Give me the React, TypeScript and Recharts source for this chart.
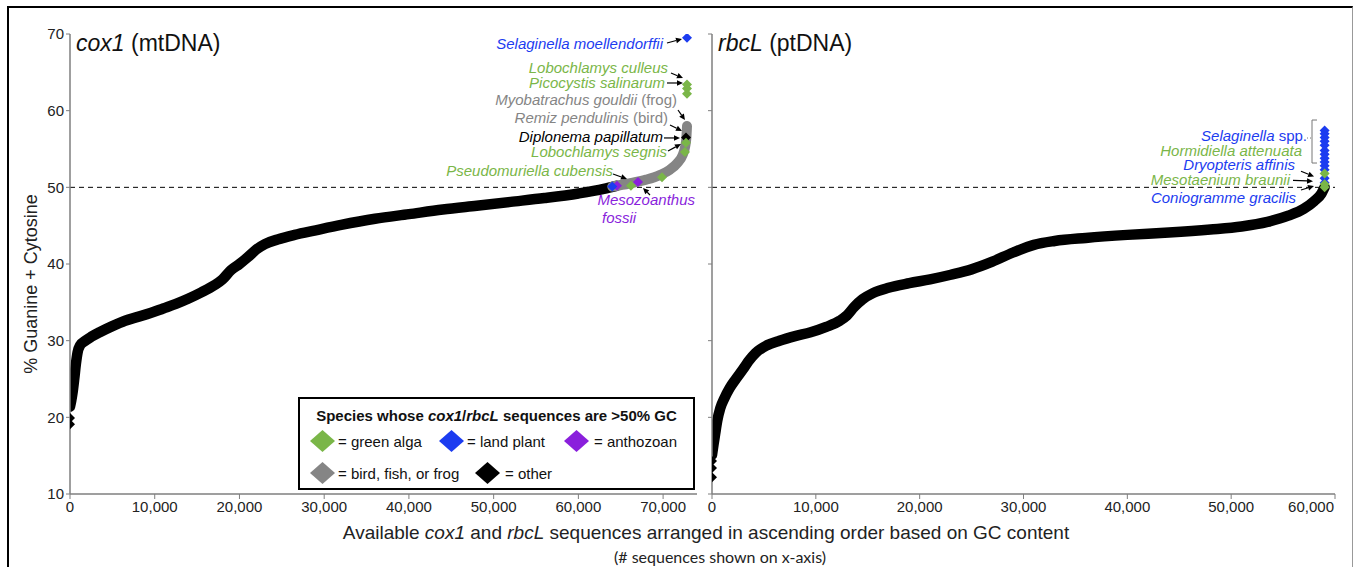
import React from "react";
import {
	ComposedChart,
	Line,
	Scatter,
	XAxis,
	YAxis,
	ReferenceLine,
	ReferenceDot,
} from "recharts";

const GREEN = "#7ab648";
const BLUE = "#1c3cf0";
const PURPLE = "#8a1fdc";
const GRAY = "#858585";
const FONT = '"Liberation Sans", Arial, sans-serif';

const yTicks = [10, 20, 30, 40, 50, 60, 70];
const cox1Ticks = [0, 10000, 20000, 30000, 40000, 50000, 60000, 70000];
const rbcLTicks = [0, 10000, 20000, 30000, 40000, 50000, 60000];

// cox1: main (black) run of sequences
const cox1BlackX = [
	0, 150, 300, 500, 700, 900, 1200, 1700, 2500, 3500, 5000, 6500, 8000, 9500,
	11000, 12500, 14000, 15500, 17000, 18000, 19000, 20000, 21000, 22000, 23000,
	24500, 26500, 29000, 32000, 36000, 40000, 44000, 48000, 52000, 56000, 60000,
	63000, 64500,
];
const cox1BlackY = [
	21.4, 22.2, 23.2, 25.0, 27.0, 28.5, 29.4, 29.9, 30.5, 31.1, 31.9, 32.6, 33.1,
	33.6, 34.2, 34.8, 35.5, 36.3, 37.2, 38.0, 39.2, 40.0, 40.9, 41.9, 42.6, 43.2,
	43.8, 44.4, 45.1, 45.9, 46.5, 47.1, 47.6, 48.1, 48.6, 49.2, 49.8, 50.2,
];
// cox1: bird / fish / frog tail (gray)
const cox1GrayX = [64000, 66000, 68000, 69600, 70800, 71700, 72300, 72600, 72750, 72820];
const cox1GrayY = [50.1, 50.5, 51.0, 51.6, 52.3, 53.2, 54.2, 55.3, 56.5, 58.0];
// cox1 highlighted sequences
const cox1GreenX = [66200, 69870, 72580, 72700, 72820, 72820, 72820];
const cox1GreenY = [50.2, 51.3, 54.6, 55.8, 62.2, 62.9, 63.4];
const cox1BlueX = [64000, 72820];
const cox1BlueY = [50.1, 69.5];
const cox1PurpleX = [64560, 67040];
const cox1PurpleY = [50.2, 50.7];
const cox1OtherX = [0, 0, 72700];
const cox1OtherY = [19.1, 19.9, 56.5];

// rbcL: main (black) run of sequences
const rbcLBlackX = [
	0, 150, 300, 500, 800, 1200, 1700, 2300, 3000, 3500, 4200, 5300, 6500, 8000,
	9500, 11000, 12300, 13000, 13700, 14500, 15500, 17000, 19000, 21000, 23000,
	25000, 27000, 29000, 31000, 33000, 36000, 40000, 44000, 48000, 51000, 53500,
	55500, 57000, 58000, 58700, 59000,
];
const rbcLBlackY = [
	15.1, 16.5, 17.8, 19.5, 21.2, 22.5, 23.8, 25.0, 26.3, 27.3, 28.4, 29.4, 30.0,
	30.6, 31.1, 31.8, 32.6, 33.3, 34.4, 35.4, 36.2, 36.9, 37.5, 38.0, 38.6, 39.3,
	40.3, 41.5, 42.5, 43.0, 43.4, 43.8, 44.1, 44.5, 44.9, 45.5, 46.3, 47.2, 48.2,
	49.2, 50.0,
];
const rbcLBlueX = [59000, 59000, 59000, 59000, 59000, 59000, 59000, 59000, 59000, 59000, 59000, 59000, 59000];
const rbcLBlueY = [57.4, 57.0, 56.5, 56.0, 55.5, 54.8, 54.3, 53.8, 53.3, 52.8, 52.3, 51.2, 50.6];
const rbcLGreenX = [59000, 59000, 59000];
const rbcLGreenY = [51.8, 50.4, 50.0];
const rbcLOtherX = [0, 0, 0];
const rbcLOtherY = [12.2, 13.4, 14.3];

// annotation labels: [name, extra, colour, x, y, anchor]
const cox1Labels: [string, string, string, number, number, string][] = [
	["Selaginella moellendorffii", "", BLUE, 69986, 68.04, "end"],
	["Lobochlamys culleus", "", GREEN, 70576, 64.91, "end"],
	["Picocystis salinarum", "", GREEN, 70222, 62.96, "end"],
	["Myobatrachus gouldii", " (frog)", GRAY, 71640, 60.74, "end"],
	["Remiz pendulinis", " (bird)", GRAY, 70576, 58.39, "end"],
	["Diplonema papillatum", "", "#000", 69986, 55.91, "end"],
	["Lobochlamys segnis", "", GREEN, 70458, 53.96, "end"],
	["Pseudomuriella cubensis", "", GREEN, 64085, 51.48, "end"],
	["Mesozoanthus", "", PURPLE, 73763, 47.7, "end"],
	["fossii", "", PURPLE, 62787, 45.4, "start"],
];
// arrows: [x1, y1, x2, y2]
const cox1Arrows: [number, number, number, number][] = [
	[70458, 68.83, 72228, 69.35],
	[70930, 64.91, 72346, 64.26],
	[70458, 63.61, 72346, 63.61],
	[71756, 60.09, 72582, 58.78],
	[70812, 58.13, 72228, 57.35],
	[70104, 56.44, 71992, 56.44],
	[70576, 54.74, 72110, 55.65],
	[64085, 51.74, 65737, 51.09],
	[68452, 49.0, 67625, 49.91],
];

const rbcLLabels: [string, string, string, number, number, string][] = [
	["Selaginella", " spp.", BLUE, 57305, 56.04, "end"],
	["Hormidiella attenuata", "", GREEN, 56823, 54.1, "end"],
	["Dryopteris affinis", "", BLUE, 56149, 52.2, "end"],
	["Mesotaenium braunii", "", GREEN, 55667, 50.3, "end"],
	["Coniogramme gracilis", "", BLUE, 56245, 47.95, "end"],
];
const rbcLArrows: [number, number, number, number][] = [
	[56727, 52.1, 57979, 51.4],
	[55956, 50.9, 57883, 50.8],
	[56727, 49.65, 57979, 50.17],
];
const rbcLBracket: [number, number, number, number] = [57786, 58.78, 57786, 53.17];

const zip = (xs: number[], ys: number[]) => xs.map((x, i) => ({ x, y: ys[i] }));
const fmt = (v: number) => v.toLocaleString("en-US");

const diamond = (color: string, s = 5) => (p: any) => (
	<polygon
		points={`${p.cx},${p.cy - s} ${p.cx + s},${p.cy} ${p.cx},${p.cy + s} ${p.cx - s},${p.cy}`}
		fill={color}
	/>
);

const arrowShape = (p: any) => {
	const { x1, y1, x2, y2 } = p;
	const a = Math.atan2(y2 - y1, x2 - x1);
	const L = 6;
	const W = 2.8;
	const bx = x2 - L * Math.cos(a);
	const by = y2 - L * Math.sin(a);
	return (
		<g>
			<line x1={x1} y1={y1} x2={bx} y2={by} stroke="#000" strokeWidth={1.2} />
			<polygon
				points={`${x2},${y2} ${bx - W * Math.sin(a)},${by + W * Math.cos(a)} ${bx + W * Math.sin(a)},${by - W * Math.cos(a)}`}
				fill="#000"
			/>
		</g>
	);
};

const bracketShape = (p: any) => {
	const { x1, y1, y2 } = p;
	const mid = y1 + 18;
	return (
		<g fill="none" stroke="#777" strokeWidth={1}>
			<path d={`M${x1 + 5},${y1} H${x1} V${y2} H${x1 + 5}`} />
			<path d={`M${x1 - 5},${mid} H${x1}`} strokeDasharray="1 2" />
		</g>
	);
};

const labelShape = (l: [string, string, string, number, number, string]) => (p: any) => (
	<text
		x={p.cx}
		y={p.cy}
		textAnchor={l[5] as any}
		fill={l[2]}
		fontSize={15}
		fontFamily={FONT}
	>
		<tspan fontStyle="italic">{l[0]}</tspan>
		{l[1] ? <tspan>{l[1]}</tspan> : null}
	</text>
);

const tickStyle = { fontSize: 15, fill: "#222", fontFamily: FONT };
const axisLine = { stroke: "#7f7f7f", strokeWidth: 1.5 };
const frameLine = { stroke: "#444", strokeWidth: 1.5 };

const RbcLTick = (p: any) => {
	const last = p.payload.value === 60000;
	return (
		<text
			x={last ? p.x + 2 : p.x}
			y={p.y}
			dy={11}
			textAnchor={last ? "end" : "middle"}
			{...tickStyle}
		>
			{fmt(p.payload.value)}
		</text>
	);
};

function Panel({
	width,
	yAxisWidth,
	rightMargin,
	domainMax,
	ticks,
	showYLabels,
	xTick,
	black,
	gray,
	marks,
	labels,
	arrows,
	bracket,
}: any) {
	return (
		<ComposedChart
			width={width}
			height={567}
			margin={{ top: 34, right: rightMargin, bottom: 43, left: 0 }}
		>
			<XAxis
				dataKey="x"
				type="number"
				domain={[0, domainMax]}
				ticks={ticks}
				allowDataOverflow
				tick={xTick ?? tickStyle}
				tickFormatter={fmt}
				tickSize={5}
				tickLine={{ stroke: "#7f7f7f" }}
				axisLine={axisLine}
				height={30}
			/>
			<XAxis
				xAxisId="top"
				orientation="top"
				type="number"
				domain={[0, domainMax]}
				tick={false}
				tickLine={false}
				axisLine={frameLine}
				height={0}
			/>
			<YAxis
				dataKey="y"
				type="number"
				domain={[10, 70]}
				ticks={yTicks}
				allowDataOverflow
				tick={showYLabels ? tickStyle : () => <g />}
				tickSize={4}
				tickMargin={2}
				tickLine={{ stroke: "#7f7f7f" }}
				axisLine={axisLine}
				width={yAxisWidth}
			/>
			<YAxis
				yAxisId="right"
				orientation="right"
				type="number"
				domain={[10, 70]}
				tick={false}
				tickLine={false}
				axisLine={frameLine}
				width={0}
			/>
			<ReferenceLine y={50} stroke="#000" strokeDasharray="5 4" strokeWidth={1} />
			<Line
				data={black}
				dataKey="y"
				type="monotone"
				stroke="#000"
				strokeWidth={10.5}
				strokeLinejoin="round"
				strokeLinecap="round"
				dot={false}
				isAnimationActive={false}
			/>
			{gray ? (
				<Line
					data={gray}
					dataKey="y"
					type="monotone"
					stroke={GRAY}
					strokeWidth={10}
					strokeLinejoin="round"
					strokeLinecap="round"
					dot={false}
					isAnimationActive={false}
				/>
			) : null}
			{marks.map((m: any, i: number) => (
				<Scatter
					key={i}
					data={m.data}
					dataKey="y"
					shape={diamond(m.color)}
					isAnimationActive={false}
				/>
			))}
			{arrows.map((a: number[], i: number) => (
				<ReferenceLine
					key={`a${i}`}
					segment={[
						{ x: a[0], y: a[1] },
						{ x: a[2], y: a[3] },
					]}
					shape={arrowShape}
				/>
			))}
			{bracket ? (
				<ReferenceLine
					segment={[
						{ x: bracket[0], y: bracket[1] },
						{ x: bracket[2], y: bracket[3] },
					]}
					shape={bracketShape}
				/>
			) : null}
			{labels.map((l: any, i: number) => (
				<ReferenceDot key={`l${i}`} x={l[3]} y={l[4]} r={0} shape={labelShape(l)} />
			))}
		</ComposedChart>
	);
}

const legendDiamond = (color: string) => (
	<svg width={27} height={24} style={{ verticalAlign: "middle" }}>
		<polygon points="13.5,1 26,12 13.5,23 1,12" fill={color} />
	</svg>
);

export default function App() {
	return (
		<div
			style={{
				position: "absolute",
				left: 0,
				top: 0,
				width: 1354,
				height: 567,
				background: "#fff",
				overflow: "hidden",
				fontFamily: FONT,
			}}
		>
			<div
				style={{
					position: "absolute",
					left: 7,
					top: 6,
					width: 1343,
					height: 600,
					borderTop: "2px solid #000",
					borderLeft: "2px solid #000",
					borderRight: "1px solid #999",
				}}
			/>
			<div style={{ position: "absolute", left: 0, top: 0 }}>
				<Panel
					width={700}
					yAxisWidth={70}
					rightMargin={3}
					domainMax={74000}
					ticks={cox1Ticks}
					showYLabels
					black={zip(cox1BlackX, cox1BlackY)}
					gray={zip(cox1GrayX, cox1GrayY)}
					marks={[
						{ data: zip(cox1OtherX, cox1OtherY), color: "#000" },
						{ data: zip(cox1GreenX, cox1GreenY), color: GREEN },
						{ data: zip(cox1PurpleX, cox1PurpleY), color: PURPLE },
						{ data: zip(cox1BlueX, cox1BlueY), color: BLUE },
					]}
					labels={cox1Labels}
					arrows={cox1Arrows}
				/>
			</div>
			<div style={{ position: "absolute", left: 700, top: 0 }}>
				<Panel
					width={654}
					yAxisWidth={12}
					rightMargin={19}
					domainMax={60000}
					ticks={rbcLTicks}
					showYLabels={false}
					xTick={RbcLTick}
					black={zip(rbcLBlackX, rbcLBlackY)}
					marks={[
						{ data: zip(rbcLOtherX, rbcLOtherY), color: "#000" },
						{ data: zip(rbcLBlueX, rbcLBlueY), color: BLUE },
						{ data: zip(rbcLGreenX, rbcLGreenY), color: GREEN },
					]}
					labels={rbcLLabels}
					arrows={rbcLArrows}
					bracket={rbcLBracket}
				/>
			</div>
			<div style={{ position: "absolute", left: 76, top: 30, fontSize: 23, color: "#111" }}>
				<i>cox1</i> (mtDNA)
			</div>
			<div style={{ position: "absolute", left: 718, top: 30, fontSize: 23, color: "#111" }}>
				<i>rbcL</i> (ptDNA)
			</div>
			<div
				style={{
					position: "absolute",
					left: 31,
					top: 284,
					transform: "translate(-50%, -50%) rotate(-90deg)",
					fontSize: 18,
					whiteSpace: "nowrap",
					color: "#222",
				}}
			>
				% Guanine + Cytosine
			</div>
			<div
				style={{
					position: "absolute",
					left: 706,
					top: 533,
					transform: "translate(-50%, -50%)",
					fontSize: 19,
					whiteSpace: "nowrap",
					color: "#222",
				}}
			>
				Available <i>cox1</i> and <i>rbcL</i> sequences arranged in ascending order based on GC content
			</div>
			<div
				style={{
					position: "absolute",
					left: 720,
					top: 556,
					transform: "translate(-50%, -50%)",
					fontSize: 16,
					fontFamily: "Lato, sans-serif",
					whiteSpace: "nowrap",
					color: "#222",
				}}
			>
				(# sequences shown on x-axis)
			</div>
			<div
				style={{
					position: "absolute",
					left: 298,
					top: 397,
					width: 393,
					height: 89,
					border: "2px solid #000",
					background: "#fff",
					fontSize: 15,
					color: "#111",
				}}
			>
				<div style={{ textAlign: "center", fontWeight: "bold", fontSize: 15, marginTop: 8 }}>
					Species whose <i>cox1</i>/<i>rbcL</i> sequences are &gt;50% GC
				</div>
				<div style={{ position: "absolute", left: 9, top: 30, display: "flex", alignItems: "center" }}>
					{legendDiamond(GREEN)}
					<span style={{ marginLeft: 2 }}>= green alga</span>
				</div>
				<div style={{ position: "absolute", left: 138, top: 30, display: "flex", alignItems: "center" }}>
					{legendDiamond(BLUE)}
					<span style={{ marginLeft: 2 }}>= land plant</span>
				</div>
				<div style={{ position: "absolute", left: 263, top: 30, display: "flex", alignItems: "center" }}>
					{legendDiamond(PURPLE)}
					<span style={{ marginLeft: 4 }}>= anthozoan</span>
				</div>
				<div style={{ position: "absolute", left: 9, top: 62, display: "flex", alignItems: "center" }}>
					{legendDiamond(GRAY)}
					<span style={{ marginLeft: 2 }}>= bird, fish, or frog</span>
				</div>
				<div style={{ position: "absolute", left: 174, top: 62, display: "flex", alignItems: "center" }}>
					{legendDiamond("#000")}
					<span style={{ marginLeft: 4 }}>= other</span>
				</div>
			</div>
		</div>
	);
}
